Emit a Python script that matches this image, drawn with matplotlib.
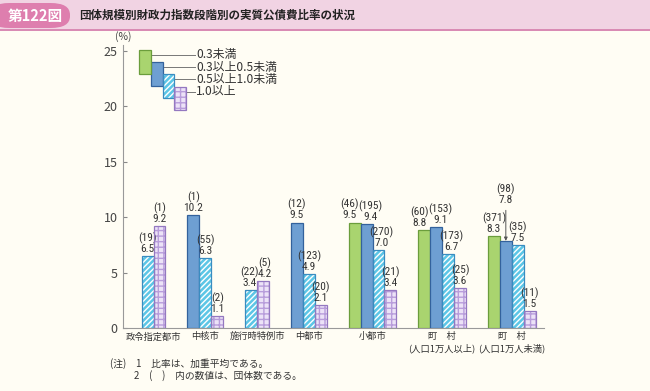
import matplotlib.pyplot as plt
from matplotlib import font_manager as fm
from matplotlib.patches import Rectangle, FancyBboxPatch

# data
categories = ['政令指定都市', '中核市', '施行時特例市', '中都市', '小都市',
              '町　村\n(人口1万人以上)', '町　村\n(人口1万人未満)']
series_names = ['0.3未満', '0.3以上0.5未満', '0.5以上1.0未満', '1.0以上']
val_lt03 = [None, None, None, None, 9.5, 8.8, 8.3]
val_03_05 = [None, 10.2, None, 9.5, 9.4, 9.1, 7.8]
val_05_10 = [6.5, 6.3, 3.4, 4.9, 7.0, 6.7, 7.5]
val_ge10 = [9.2, 1.1, 4.2, 2.1, 3.4, 3.6, 1.5]
cnt_lt03 = [None, None, None, None, 46, 60, 371]
cnt_03_05 = [None, 1, None, 12, 195, 153, 98]
cnt_05_10 = [19, 55, 22, 123, 270, 173, 35]
cnt_ge10 = [1, 2, 5, 20, 21, 25, 11]

values = [val_lt03, val_03_05, val_05_10, val_ge10]
counts = [cnt_lt03, cnt_03_05, cnt_05_10, cnt_ge10]

# styles: face, hatch, hatch colour, edge
styles = [
    ('#a9d46f', None, None, '#6b9d3c'),
    ('#6e9fd2', None, None, '#33629c'),
    ('#5cc6e6', '//////', 'white', '#3a8cc0'),
    ('#ece2f7', '+++', '#b89ddb', '#9478c0'),
]

CJK = ['Noto Sans CJK JP', 'DejaVu Sans']
plt.rcParams['font.family'] = CJK
plt.rcParams['hatch.linewidth'] = 1.0

# pick a narrow font for the value labels if one is installed
fonts = fm.fontManager.ttflist
names = {f.name for f in fonts}
num_kw = dict(family=CJK, fontsize=7.2)
for cand in ['Liberation Sans Narrow', 'Roboto Condensed', 'Open Sans Condensed',
             'DejaVu Sans Condensed']:
    if cand in names:
        num_kw = dict(family=[cand, 'DejaVu Sans'], fontsize=8.2)
        break
else:
    if any(f.name == 'DejaVu Sans' and f.stretch in ('condensed', 'semi-condensed')
           for f in fonts):
        num_kw = dict(family=['DejaVu Sans'], stretch='condensed', fontsize=7.8)

txt = '#333333'
bg = '#fffdf4'

fig = plt.figure(figsize=(6.5, 3.91), dpi=100, facecolor=bg)

# title band
fig.patches.append(Rectangle((0, 1 - 30 / 391), 1, 30 / 391, transform=fig.transFigure,
                             facecolor='#f1d3e3', edgecolor='none', zorder=0))
fig.patches.append(Rectangle((0, 1 - 31 / 391), 1, 1.5 / 391, transform=fig.transFigure,
                             facecolor='#d98bb4', edgecolor='none', zorder=1))
fig.patches.append(FancyBboxPatch((-10 / 650, 1 - 28 / 391), 80 / 650, 25 / 391,
                                  boxstyle='round,pad=0,rounding_size=0.03',
                                  transform=fig.transFigure, facecolor='#de7eae',
                                  edgecolor='none', zorder=2))
fig.text(35 / 650, 1 - 15.5 / 391, '第122図', color='white', fontsize=10.5,
         fontweight='bold', ha='center', va='center')
fig.text(79 / 650, 1 - 15.5 / 391, '団体規模別財政力指数段階別の実質公債費比率の状況',
         color='#222222', fontsize=8.3, fontweight='bold', ha='left', va='center')

ax = fig.add_axes([123 / 650, 63 / 391, 421 / 650, 283 / 391])
ax.set_facecolor(bg)

# bar positions: only present bars, side by side, gap between groups
width = 1.0
gap = 1.85
positions = [[None] * len(categories) for _ in values]
centers = []
x = 0.0
for g in range(len(categories)):
    start = x
    for s in range(len(values)):
        if values[s][g] is not None:
            positions[s][g] = x + width / 2
            x += width
    centers.append((start + x) / 2)
    x += gap

raised = {(1, 6): 11.1}  # label lifted with arrow
# small sideways nudges (points) where neighbouring labels crowd
nudge = {(0, 4): -3.5, (1, 4): 3.0, (2, 4): 2.0, (0, 5): -3.5, (1, 5): 3.0,
         (2, 5): 2.0, (2, 2): -1.0, (3, 2): 1.0}

for s, (face, hatch, hcol, edge) in enumerate(styles):
    for g in range(len(categories)):
        v = values[s][g]
        if v is None:
            continue
        p = positions[s][g]
        if hatch:
            ax.bar(p, v, width, color=face, edgecolor=hcol, hatch=hatch, linewidth=0, zorder=2)
            ax.bar(p, v, width, fill=False, edgecolor=edge, linewidth=0.9, zorder=3)
        else:
            ax.bar(p, v, width, color=face, edgecolor=edge, linewidth=0.9, zorder=3)
        label = '(%d)\n%.1f' % (counts[s][g], v)
        if (s, g) in raised:
            ty = raised[(s, g)]
            ax.annotate(label, xy=(p, v + 0.05), xytext=(p, ty), ha='center', va='bottom',
                        color=txt, linespacing=1.0,
                        arrowprops=dict(arrowstyle='-|>', color='#555555', lw=0.7,
                                        mutation_scale=5, shrinkA=2, shrinkB=0),
                        **num_kw)
        else:
            ax.annotate(label, xy=(p, v), xytext=(nudge.get((s, g), 0), 1.5),
                        textcoords='offset points', ha='center', va='bottom',
                        color=txt, linespacing=1.0, **num_kw)

ax.set_xlim(-1.57, -1.57 + 421 / 11.9)
ax.set_ylim(0, 25.5)
ax.set_yticks([0, 5, 10, 15, 20, 25])
ax.tick_params(axis='y', direction='in', length=3, color='#888888', labelsize=9,
               labelcolor='#444444', pad=4)
ax.set_xticks([])
for sp in ['top', 'right']:
    ax.spines[sp].set_visible(False)
ax.spines['left'].set_color('#999999')
ax.spines['bottom'].set_color('#999999')
ax.spines['left'].set_linewidth(0.8)
ax.spines['bottom'].set_linewidth(0.8)

# category labels
for c, name in zip(centers, categories):
    ax.annotate(name, xy=(c, 0), xytext=(0, -3), textcoords='offset points',
                ha='center', va='top', fontsize=6.7, color=txt, linespacing=1.3,
                annotation_clip=False)

ax.annotate('(%)', xy=(-1.57, 25.5), xytext=(0, 2), textcoords='offset points',
            ha='center', va='bottom', fontsize=7.5, color='#444444', annotation_clip=False)

# legend: staggered boxes with leader lines
lx, ly = -0.2, 25.05
bw, bh = 0.97, 2.15
for i, (face, hatch, hcol, edge) in enumerate(styles):
    x0 = lx + i * 0.98
    y0 = ly - i * 1.1
    if hatch:
        ax.add_patch(Rectangle((x0, y0 - bh), bw, bh, facecolor=face, edgecolor=hcol,
                               hatch=hatch, linewidth=0, zorder=4))
        ax.add_patch(Rectangle((x0, y0 - bh), bw, bh, fill=False, edgecolor=edge,
                               linewidth=0.9, zorder=5))
    else:
        ax.add_patch(Rectangle((x0, y0 - bh), bw, bh, facecolor=face, edgecolor=edge,
                               linewidth=0.9, zorder=5 - i * 0.01))
    yl = y0 - 0.45
    ax.plot([x0 + bw, 4.45], [yl, yl], color='#777777', lw=0.7, zorder=3)
    ax.text(4.6, yl, series_names[i], ha='left', va='center', fontsize=8.6, color=txt)

fig.text(110 / 650, 1 - 364 / 391, '(注)　1　比率は、加重平均である。', fontsize=7,
         color=txt, ha='left', va='center')
fig.text(134 / 650, 1 - 376 / 391, '2　(　)　内の数値は、団体数である。', fontsize=7,
         color=txt, ha='left', va='center')

fig.savefig('out.png', dpi=100, facecolor=bg)
